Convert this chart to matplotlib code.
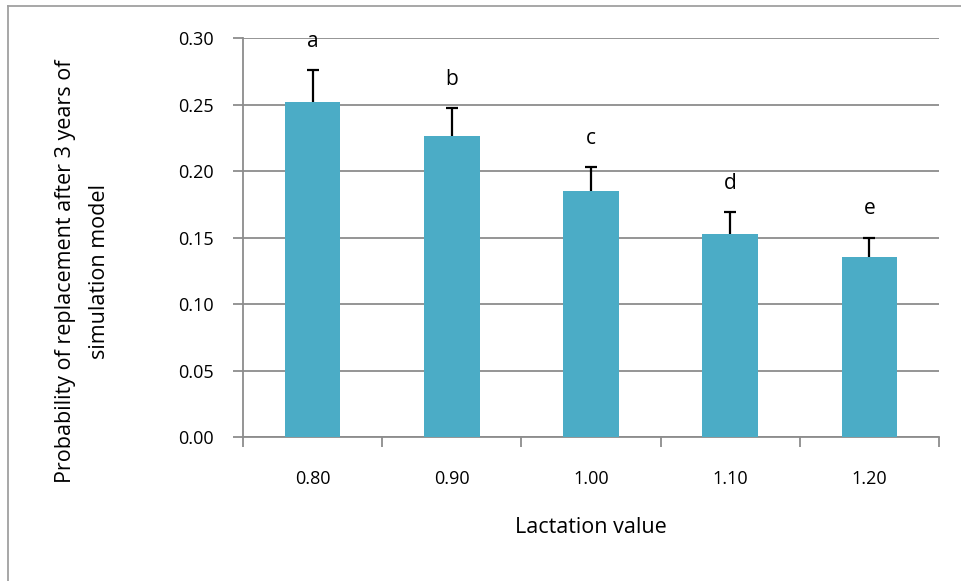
import matplotlib.pyplot as plt
from matplotlib.lines import Line2D
import numpy as np

plt.rcParams['font.family'] = ['Open Sans', 'DejaVu Sans']

lactation = ['0.80', '0.90', '1.00', '1.10', '1.20']
prob = [0.252, 0.226, 0.185, 0.153, 0.135]
err = [0.024, 0.021, 0.018, 0.016, 0.015]
letters = ['a', 'b', 'c', 'd', 'e']

grey = '#8c8c8c'
fig = plt.figure(figsize=(9.62, 5.81), dpi=100)
ax = fig.add_axes([0.2526, 0.2478, 0.7235, 0.6868])

x = np.arange(len(lactation))
tops = np.array(prob) + np.array(err)
ax.bar(x, prob, width=0.4, color='#4BACC6', zorder=3)
# upper error bars only, no cap at the bar top
ax.vlines(x, prob, tops, color='black', linewidth=1.6, zorder=4)
ax.plot(x, tops, linestyle='none', marker='_', markersize=9, markeredgewidth=1.6,
        color='black', zorder=4)

for xi, t, lab in zip(x, tops, letters):
    ax.annotate(lab, (xi, t), xytext=(0, 13), textcoords='offset points',
                ha='center', va='bottom', fontsize=15)

ax.set_ylim(0, 0.30)
ax.set_yticks(np.arange(0, 0.301, 0.05))
ax.set_yticklabels(['%.2f' % v for v in np.arange(0, 0.301, 0.05)], fontsize=13)
ax.yaxis.grid(True, color=grey, linewidth=1.3, zorder=0)
ax.set_axisbelow(True)

ax.set_xlim(-0.5, len(lactation) - 0.5)
ax.set_xticks(np.arange(-0.5, len(lactation), 1.0))
ax.set_xticklabels([])
ax.set_xticks(x, minor=True)
ax.set_xticklabels(lactation, minor=True, fontsize=13)
ax.tick_params(axis='x', which='minor', length=0, pad=24)
ax.tick_params(axis='x', which='major', length=7, width=1.3, color=grey)
ax.tick_params(axis='y', length=7, width=1.3, color=grey, pad=14)

for s in ['top', 'right']:
    ax.spines[s].set_visible(False)
for s in ['left', 'bottom']:
    ax.spines[s].set_color(grey)
    ax.spines[s].set_linewidth(1.3)

ax.set_xlabel('Lactation value', fontsize=15.5, va='center')
ax.xaxis.set_label_coords(0.5, -(527 - 437) / 399)
ax.set_ylabel('Probability of replacement after 3 years of\nsimulation model',
              fontsize=15.5, linespacing=1.8, va='center')
ax.yaxis.set_label_coords((82.5 - 243) / 696, 1 - (271 - 38) / 399)

# outer frame (only top and left visible)
fig.add_artist(Line2D([8 / 962, 1.0], [1 - 6 / 581, 1 - 6 / 581], color='#a0a0a0',
                      linewidth=1.3, transform=fig.transFigure))
fig.add_artist(Line2D([8 / 962, 8 / 962], [0, 1 - 6 / 581], color='#a0a0a0',
                      linewidth=1.3, transform=fig.transFigure))

fig.savefig('out.png', dpi=100)
